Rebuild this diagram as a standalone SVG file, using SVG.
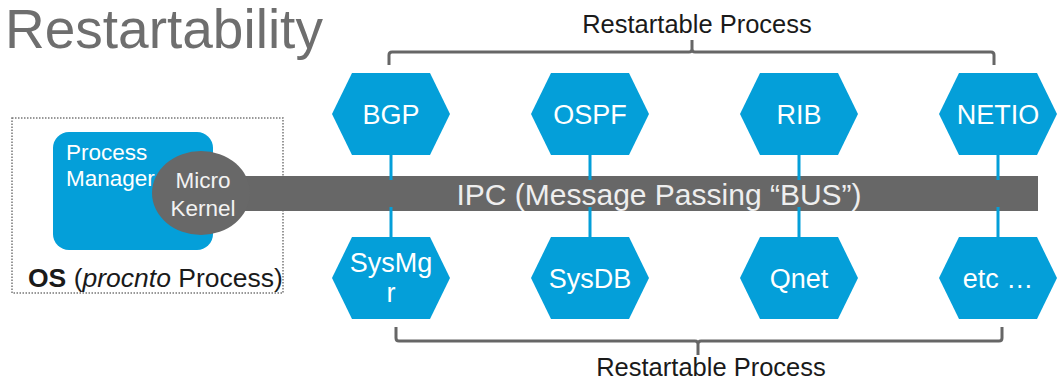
<svg xmlns="http://www.w3.org/2000/svg" width="1058" height="382" viewBox="0 0 1058 382">
<defs>
<style>
.hex{fill:#049fd9}
.hl{font-family:"Liberation Sans",Arial,sans-serif;font-size:27px;fill:#ffffff;text-anchor:middle}
.lbl{font-family:"Liberation Sans",Arial,sans-serif;fill:#1a1a1a}
.conn{stroke:#049fd9;stroke-width:3;fill:none}
.brk{stroke:#666666;stroke-width:3;fill:none;stroke-linejoin:round}
</style>
<path id="hexshape" d="M-59,0 L-39,-41 L39,-41 L59,0 L39,41 L-39,41 Z"/>
</defs>
<rect width="1058" height="382" fill="#ffffff"/>
<text x="5" y="48" font-family="'Liberation Sans',Arial,sans-serif" font-size="55" fill="#6e6e6e">Restartability</text>

<g id="os">
<rect x="12" y="118" width="271" height="175" fill="none" stroke="#777777" stroke-width="1.5" stroke-dasharray="1.5,1.5"/>
<text class="lbl" x="28" y="287" font-size="26.5"><tspan font-weight="bold">OS</tspan> (<tspan font-style="italic">procnto</tspan> Process)</text>
</g>
<g id="process-manager">
<rect x="53" y="132" width="160" height="118" rx="16" fill="#049fd9"/>
<text x="66" y="160" font-family="'Liberation Sans',Arial,sans-serif" font-size="22.5" fill="#ffffff">Process</text>
<text x="66" y="186" font-family="'Liberation Sans',Arial,sans-serif" font-size="22.5" fill="#ffffff">Manager</text>
</g>
<g id="bus">
<rect x="200" y="176" width="838" height="35" fill="#676767"/>
<text x="659" y="205" font-family="'Liberation Sans',Arial,sans-serif" font-size="30" fill="#eeeeee" text-anchor="middle">IPC (Message Passing “BUS”)</text>
</g>
<g id="micro-kernel">
<ellipse cx="201" cy="193" rx="49" ry="42" fill="#686868"/>
<text x="203" y="188" font-family="'Liberation Sans',Arial,sans-serif" font-size="22.5" fill="#f2f2f2" text-anchor="middle">Micro</text>
<text x="203" y="216" font-family="'Liberation Sans',Arial,sans-serif" font-size="22.5" fill="#f2f2f2" text-anchor="middle">Kernel</text>
</g>

<g id="connectors">
<path class="conn" d="M391,155 V180 M391,207 V237"/>
<path class="conn" d="M590,155 V180 M590,207 V237"/>
<path class="conn" d="M799,155 V180 M799,207 V237"/>
<path class="conn" d="M998,155 V180 M998,207 V237"/>
</g>

<g id="bgp"><use href="#hexshape" class="hex" x="391" y="114"/><text class="hl" x="391" y="124">BGP</text></g>
<g id="ospf"><use href="#hexshape" class="hex" x="590" y="114"/><text class="hl" x="590" y="124">OSPF</text></g>
<g id="rib"><use href="#hexshape" class="hex" x="799" y="114"/><text class="hl" x="799" y="124">RIB</text></g>
<g id="netio"><use href="#hexshape" class="hex" x="998" y="114"/><text class="hl" x="998" y="124">NETIO</text></g>
<g id="sysmgr"><use href="#hexshape" class="hex" x="391" y="278"/><text class="hl" x="391" y="272">SysMg</text><text class="hl" x="391" y="302">r</text></g>
<g id="sysdb"><use href="#hexshape" class="hex" x="590" y="278"/><text class="hl" x="590" y="288">SysDB</text></g>
<g id="qnet"><use href="#hexshape" class="hex" x="799" y="278"/><text class="hl" x="799" y="288">Qnet</text></g>
<g id="etc"><use href="#hexshape" class="hex" x="998" y="278"/><text class="hl" x="998" y="288">etc …</text></g>

<g id="top-bracket">
<path class="brk" d="M389,65 V55 Q389,52 392,52 H689 Q692,52 692,49 V40 M692,49 Q692,52 695,52 H991 Q994,52 994,55 V65"/>
<text class="lbl" x="697" y="33" font-size="25.5" text-anchor="middle">Restartable Process</text>
</g>
<g id="bottom-bracket">
<path class="brk" d="M396,327 V338 Q396,341 399,341 H695 Q698,341 698,344 V355 M698,344 Q698,341 701,341 H999 Q1002,341 1002,338 V327"/>
<text class="lbl" x="711" y="376" font-size="25.5" text-anchor="middle">Restartable Process</text>
</g>
</svg>
